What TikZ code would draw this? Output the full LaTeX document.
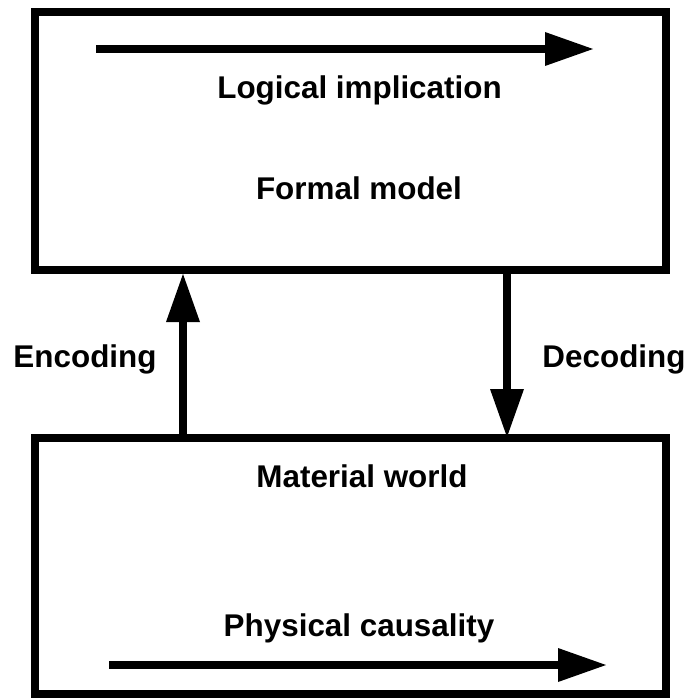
\documentclass[tikz,border=0pt]{standalone}
\usepackage{fontspec}
\setmainfont{Liberation Sans}
\usetikzlibrary{arrows.meta}
\begin{document}
\begin{tikzpicture}[x=1pt,y=-1pt,
  frame/.style={draw,line width=8pt,rectangle,inner sep=0pt},
  arr/.style={line width=8pt,-{Triangle[length=48pt,width=34pt,line width=0pt]}},
  lbl/.style={font=\fontsize{31.4}{36}\selectfont\bfseries,anchor=base,inner sep=0pt}]
\useasboundingbox (0,0) rectangle (691,698);
% the two boxes
\node[frame,minimum width=631pt,minimum height=258pt] (formal) at (350.5,141) {};
\node[frame,minimum width=631pt,minimum height=256pt] (world) at (350.5,566) {};
% arrows inside the boxes
\coordinate (li1) at (96,49);
\coordinate (li2) at (593,49);
\coordinate (pc1) at (109,665);
\coordinate (pc2) at (606,665);
\draw[arr] (li1) -- (li2);
\draw[arr] (pc1) -- (pc2);
% encoding and decoding
\coordinate (encx) at (183,0);
\coordinate (decx) at (507,0);
\draw[arr] (world.north -| encx) -- (formal.south -| encx);
\draw[arr] (formal.south -| decx) -- ([yshift=-3pt]world.north -| decx);
% labels
\node[lbl] (tli) at (359.5,99) {Logical implication};
\node[lbl] (tfm) at (359,199) {Formal model};
\node[lbl] (tenc) at (85,367) {Encoding};
\node[lbl] (tdec) at (614,367) {Decoding};
\node[lbl] (tmw) at (362,487) {Material world};
\node[lbl] (tpc) at (359,636) {Physical causality};
\end{tikzpicture}
\end{document}
